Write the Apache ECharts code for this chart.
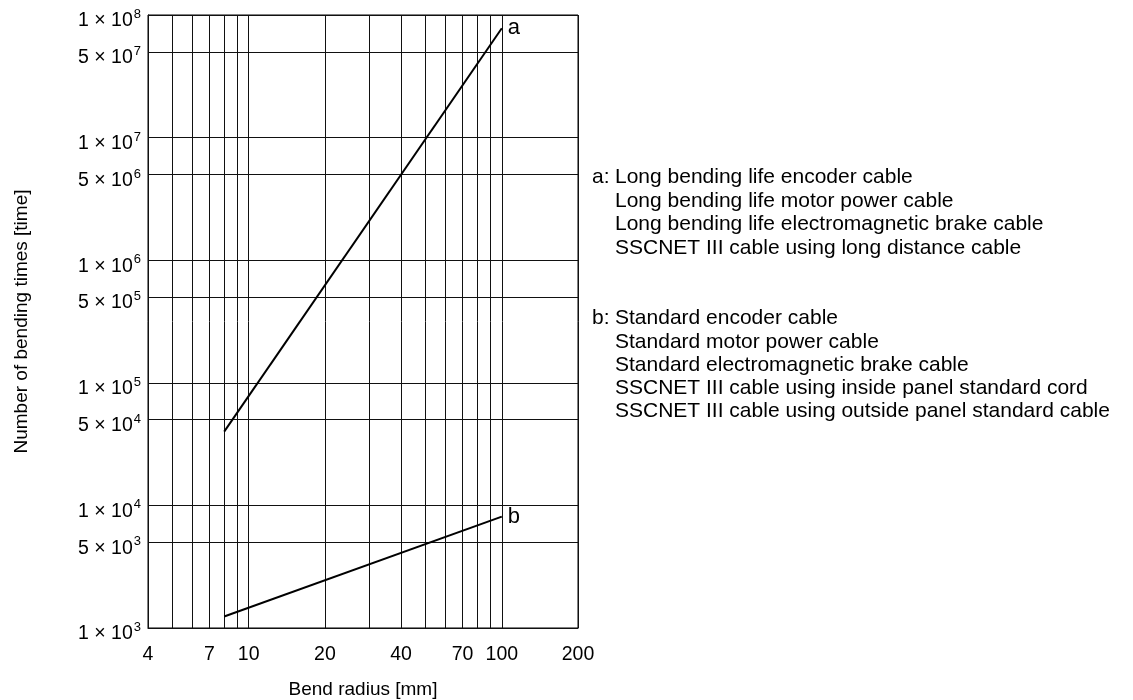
<!DOCTYPE html>
<html>
<head>
<meta charset="utf-8">
<script src="https://cdn.jsdelivr.net/npm/echarts@6/dist/echarts.min.js"></script>
<style>
html,body{margin:0;padding:0;background:#fff;}
#chart{width:1133px;height:700px;}
</style>
</head>
<body>
<div id="chart"></div>
<script>
// ---- data ----
const bendRadius = [8, 100];
const cableA = [4.0e4, 7.8e7];
const cableB = [1.24e3, 8.1e3];
const curveNames = ['a', 'b'];
const xGridValues = [4, 5, 6, 7, 8, 9, 10, 20, 30, 40, 50, 60, 70, 80, 90, 100, 200];
const xLabelValues = [4, 7, 10, 20, 40, 70, 100, 200];
const yGridValues = [1e3, 5e3, 1e4, 5e4, 1e5, 5e5, 1e6, 5e6, 1e7, 5e7, 1e8];
const noteAHead = 'a:';
const noteALines = [
  'Long bending life encoder cable',
  'Long bending life motor power cable',
  'Long bending life electromagnetic brake cable',
  'SSCNET III cable using long distance cable'
];
const noteBHead = 'b:';
const noteBLines = [
  'Standard encoder cable',
  'Standard motor power cable',
  'Standard electromagnetic brake cable',
  'SSCNET III cable using inside panel standard cord',
  'SSCNET III cable using outside panel standard cable'
];
const xName = 'Bend radius [mm]';
const yName = 'Number of bending times [time]';

// ---- style ----
const FONT = '"Liberation Sans", Arial, Helvetica, sans-serif';
const TICK_SIZE = 19.5;
const SUP_SIZE = 13;
const NAME_SIZE = 19;
const NOTE_SIZE = 21;

function sciLabel(v) {
  const e = Math.floor(Math.log10(v) + 1e-9);
  const m = Math.round(v / Math.pow(10, e));
  return '{n|' + m + ' × 10}{s|' + e + '}';
}

const gridLineStyle = { color: '#111', width: 1, type: 'solid' };

const markData = [];
xGridValues.forEach(function (v) {
  const showLab = xLabelValues.indexOf(v) >= 0;
  markData.push({
    xAxis: v,
    label: {
      show: showLab,
      position: 'start',
      distance: 17,
      formatter: String(v),
      fontFamily: FONT,
      fontSize: TICK_SIZE,
      color: '#000'
    }
  });
});
yGridValues.forEach(function (v) {
  markData.push({
    yAxis: v,
    label: {
      show: true,
      position: 'start',
      distance: 7,
      padding: [8, 0, 0, 0],
      formatter: sciLabel(v),
      color: '#000',
      rich: {
        n: { fontFamily: FONT, fontSize: TICK_SIZE, color: '#000', padding: [4, 0, 0, 0], verticalAlign: 'bottom' },
        s: { fontFamily: FONT, fontSize: SUP_SIZE, color: '#000', padding: [1, 0, 0, 1], verticalAlign: 'top' }
      }
    }
  });
});

function pairs(xs, ys) { return xs.map(function (x, i) { return [x, ys[i]]; }); }

const chart = echarts.init(document.getElementById('chart'), null, { renderer: 'canvas' });

const option = {
  animation: false,
  backgroundColor: '#fff',
  textStyle: { fontFamily: FONT, color: '#000' },
  grid: {
    left: 148, right: 555, top: 15, bottom: 72,
    show: true, borderColor: '#000', borderWidth: 1,
    containLabel: false, outerBoundsMode: 'none'
  },
  xAxis: {
    type: 'log', logBase: 10, min: 4, max: 200,
    name: xName, nameLocation: 'middle', nameGap: 52,
    nameTextStyle: { fontFamily: FONT, fontSize: NAME_SIZE, color: '#000' },
    axisLine: { show: true, lineStyle: { color: '#000' } },
    axisTick: { show: false },
    axisLabel: { show: false },
    splitLine: { show: false }
  },
  yAxis: {
    type: 'log', logBase: 10, min: 1e3, max: 1e8,
    name: yName, nameLocation: 'middle', nameGap: 117, nameRotate: 90,
    nameTextStyle: { fontFamily: FONT, fontSize: NAME_SIZE, color: '#000' },
    axisLine: { show: true, lineStyle: { color: '#000' } },
    axisTick: { show: false },
    axisLabel: { show: false },
    splitLine: { show: false }
  },
  series: [
    {
      name: curveNames[0],
      type: 'line',
      data: pairs(bendRadius, cableA),
      symbol: 'none',
      lineStyle: { color: '#000', width: 2 },
      z: 5,
      silent: true,
      endLabel: { show: true, formatter: curveNames[0], fontFamily: FONT, fontSize: 22, color: '#000', distance: 6 },
      markLine: {
        silent: true,
        symbol: ['none', 'none'],
        lineStyle: gridLineStyle,
        emphasis: { disabled: true },
        data: markData,
        z: 1
      }
    },
    {
      name: curveNames[1],
      type: 'line',
      data: pairs(bendRadius, cableB),
      symbol: 'none',
      lineStyle: { color: '#000', width: 2 },
      z: 5,
      silent: true,
      endLabel: { show: true, formatter: curveNames[1], fontFamily: FONT, fontSize: 22, color: '#000', distance: 6 }
    }
  ],
  graphic: [
    { type: 'text', left: 592, top: 166, style: { text: noteAHead, font: NOTE_SIZE + 'px ' + FONT, fill: '#000', lineHeight: 23.4 } },
    { type: 'text', left: 615, top: 166, style: { text: noteALines.join('\n'), font: NOTE_SIZE + 'px ' + FONT, fill: '#000', lineHeight: 23.4 } },
    { type: 'text', left: 592, top: 307, style: { text: noteBHead, font: NOTE_SIZE + 'px ' + FONT, fill: '#000', lineHeight: 23.2 } },
    { type: 'text', left: 615, top: 307, style: { text: noteBLines.join('\n'), font: NOTE_SIZE + 'px ' + FONT, fill: '#000', lineHeight: 23.2 } }
  ]
};

chart.setOption(option);
</script>
</body>
</html>
